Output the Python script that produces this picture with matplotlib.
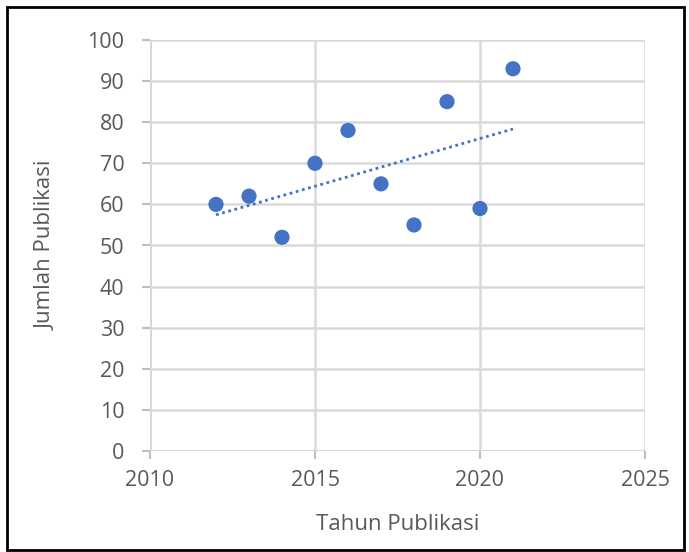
import numpy as np
import matplotlib
matplotlib.use("Agg")
import matplotlib.pyplot as plt
from matplotlib.patches import Rectangle

# data
tahun = [2012, 2013, 2014, 2015, 2016, 2017, 2018, 2019, 2020, 2021]
jumlah = [60, 62, 52, 70, 78, 65, 55, 85, 59, 93]

plt.rcParams['font.family'] = ['Open Sans', 'DejaVu Sans']
grey = '#595959'
grid = '#d9d9d9'
blue = '#4472C4'

fig = plt.figure(figsize=(6.89, 5.52), dpi=100)
ax = fig.add_axes([150/689, 101/552, 495/689, 411/552])

ax.scatter(tahun, jumlah, s=120, color=blue, zorder=3, edgecolors='none')

# trendline (linear)
k, b = np.polyfit(tahun, jumlah, 1)
xt = np.array([tahun[0], tahun[-1]])
ax.plot(xt, k * xt + b, color=blue, lw=2, ls=(0, (1, 1.3)), zorder=2)

ax.set_xlim(2010, 2025)
ax.set_ylim(0, 100)
ax.set_xticks(range(2010, 2026, 5))
ax.set_yticks(range(0, 101, 10))
ax.grid(True, color=grid, lw=1.8, zorder=0)
for s in ax.spines.values():
    s.set_visible(False)
ax.axvline(2010, color='#bfbfbf', lw=1.8, zorder=1)
ax.axhline(0, color='#bfbfbf', lw=1.8, zorder=1)
ax.tick_params(axis='both', colors='#bfbfbf', labelcolor=grey, labelsize=15.5,
               length=5.5, width=1.5)
ax.tick_params(axis='x', pad=8)
ax.tick_params(axis='y', pad=13)

ax.set_xlabel('Tahun Publikasi', fontsize=16, color=grey, labelpad=17)
ax.set_ylabel('Jumlah Publikasi', fontsize=16, color=grey, labelpad=22)

fig.patches.append(Rectangle((7/689, 2/552), 677/689, 543/552, transform=fig.transFigure,
                             fill=False, edgecolor='black', lw=2))

fig.savefig('out.png', dpi=100)
